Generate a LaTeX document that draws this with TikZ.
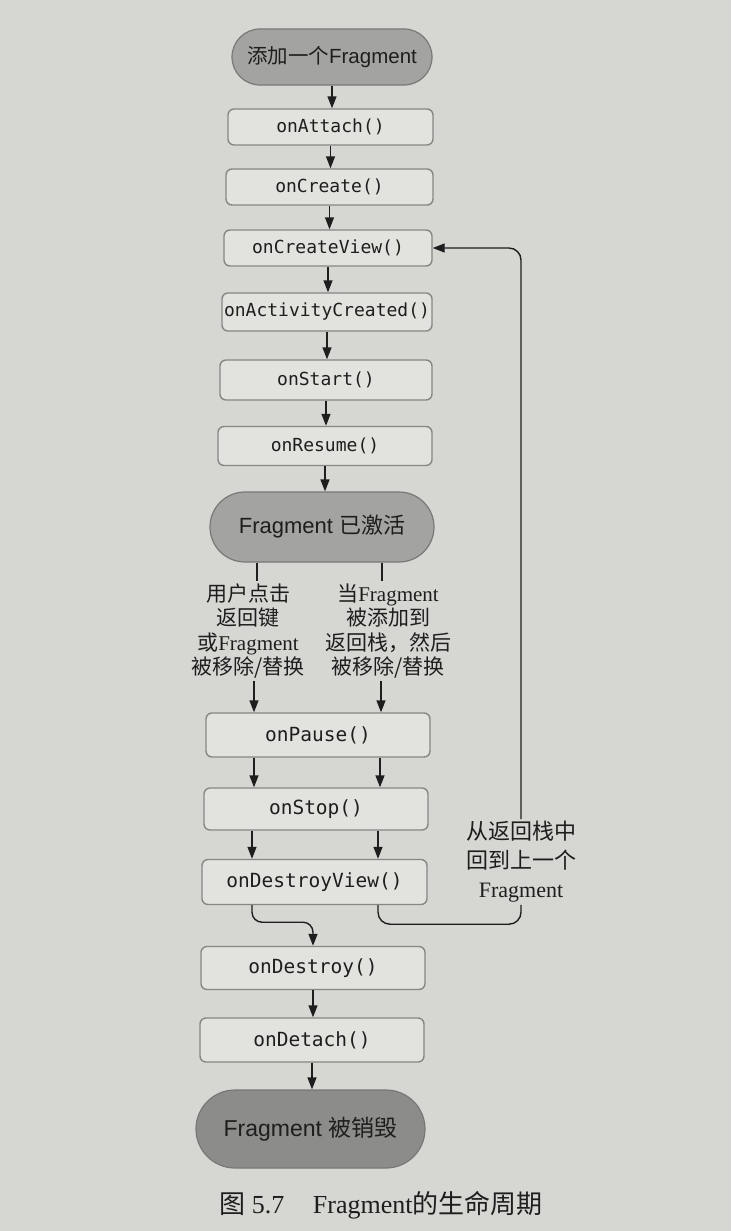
\documentclass[tikz,border=0pt]{standalone}
\usepackage{fontspec}
\setmainfont{Liberation Serif}
\setsansfont{Liberation Sans}
\setmonofont{DejaVu Sans Mono}
\newfontfamily\cjk{Noto Sans CJK SC}
\usetikzlibrary{arrows.meta,calc}
\definecolor{bgc}{RGB}{214,214,211}
\definecolor{boxfill}{RGB}{226,226,223}
\definecolor{boxline}{RGB}{135,135,133}
\definecolor{pillfill}{RGB}{163,163,161}
\definecolor{deadfill}{RGB}{140,140,138}
\definecolor{pillline}{RGB}{120,120,118}
\definecolor{inkc}{RGB}{30,30,30}
\newcommand\monoA{\ttfamily\fontsize{18}{21}\selectfont}
\newcommand\monoB{\ttfamily\fontsize{19.5}{22}\selectfont}
\begin{document}
\begin{tikzpicture}[x=1pt,y=-1pt,
  box/.style={draw=boxline, line width=1.4pt, fill=boxfill, rounded corners=6pt, text=inkc, inner sep=0pt},
  pill/.style={draw=pillline, line width=1.2pt, fill=pillfill, text=inkc, inner sep=0pt},
  arr/.style={-{Triangle[length=12pt,width=9pt]}, line width=1.4pt, draw=inkc},
  ln/.style={line width=1.4pt, draw=inkc},
  lbl/.style={align=center, text=inkc, inner sep=2pt}
]
\fill[bgc] (0,0) rectangle (731,1231);
\useasboundingbox (0,0) rectangle (731,1231);

\node[pill, minimum width=200pt, minimum height=56pt, rounded corners=28pt, font=\sffamily\fontsize{20.5}{24}\selectfont] (start) at (332,57) {{\cjk 添加一个}Fragment};
\node[box, minimum width=205pt, minimum height=36pt, font=\monoA] (attach) at (330.5,127) {onAttach()};
\node[box, minimum width=207pt, minimum height=36pt, font=\monoA] (create) at (329.5,187) {onCreate()};
\node[box, minimum width=208pt, minimum height=36pt, font=\monoA] (cview) at (328,248) {onCreateView()};
\node[box, minimum width=210pt, minimum height=38pt, font=\monoA] (actc) at (327,312) {onActivityCreated()};
\node[box, minimum width=212pt, minimum height=40pt, font=\monoA] (ostart) at (326,380) {onStart()};
\node[box, minimum width=214pt, minimum height=39pt, font=\monoA] (resume) at (325,446) {onResume()};
\node[pill, minimum width=224pt, minimum height=70pt, rounded corners=35pt, font=\sffamily\fontsize{22}{26}\selectfont] (active) at (322,527) {Fragment {\cjk 已激活}};

\node[lbl, font=\fontsize{21}{24.5}\selectfont] (lblL) at (248,631) {{\cjk 用户点击}\\{\cjk 返回键}\\{\cjk 或}Fragment\\{\cjk 被移除/替换}};
\node[lbl, font=\fontsize{21}{24.5}\selectfont] (lblR) at (388,631) {{\cjk 当}Fragment\\{\cjk 被添加到}\\{\cjk 返回栈，然后}\\{\cjk 被移除/替换}};

\node[box, minimum width=224pt, minimum height=44pt, font=\monoB] (pause) at (318,735) {onPause()};
\node[box, minimum width=224pt, minimum height=42pt, font=\monoB] (stop) at (316,809) {onStop()};
\node[box, minimum width=225pt, minimum height=45pt, font=\monoB] (dview) at (314.5,882) {onDestroyView()};
\node[box, minimum width=224pt, minimum height=43pt, font=\monoB] (destroy) at (313,968) {onDestroy()};
\node[box, minimum width=224pt, minimum height=44pt, font=\monoB] (detach) at (312,1040) {onDetach()};
\node[pill, fill=deadfill, minimum width=229pt, minimum height=78pt, rounded corners=39pt, font=\sffamily\fontsize{23}{27}\selectfont] (dead) at (310.5,1129) {Fragment {\cjk 被销毁}};

\node[lbl, font=\fontsize{22}{29}\selectfont] (back) at (521,862) {{\cjk 从返回栈中}\\{\cjk 回到上一个}\\Fragment};

\node[text=inkc, font=\fontsize{26}{30}\selectfont] (cap) at (381,1205) {{\cjk 图} 5.7\hspace{1.1em}Fragment{\cjk 的生命周期}};

% main chain
\draw[arr] (start.south) -- (start.south |- attach.north);
\draw[arr] (attach.south) -- (attach.south |- create.north);
\draw[arr] (create.south) -- (create.south |- cview.north);
\draw[arr] (cview.south) -- (cview.south |- actc.north);
\draw[arr] (actc.south) -- (actc.south |- ostart.north);
\draw[arr] (ostart.south) -- (ostart.south |- resume.north);
\draw[arr] (resume.south) -- (resume.south |- active.north);

% branches
\draw[ln] ([xshift=-65pt]active.south) -- ([xshift=9pt]lblL.north);
\draw[ln] ([xshift=60pt]active.south) -- ([xshift=-6pt]lblR.north);
\draw[arr] ([xshift=6pt]lblL.south) -- ([xshift=-64pt]pause.north);
\draw[arr] ([xshift=-7pt]lblR.south) -- ([xshift=63pt]pause.north);
\draw[arr] ([xshift=-64pt]pause.south) -- ([xshift=-62pt]stop.north);
\draw[arr] ([xshift=62pt]pause.south) -- ([xshift=64pt]stop.north);
\draw[arr] ([xshift=-64pt]stop.south) -- ([xshift=-62.5pt]dview.north);
\draw[arr] ([xshift=62pt]stop.south) -- ([xshift=63.5pt]dview.north);

% to onDestroy
\draw[arr, rounded corners=10pt] ([xshift=-62.5pt]dview.south) -- ++(0pt,-17pt) -| (destroy.north);
% return path
\draw[ln, rounded corners=12pt] ([xshift=63.5pt]dview.south) -- ++(0pt,-19pt) -| (back.south);
\draw[arr, rounded corners=12pt] (back.north) |- (cview.east);

\draw[arr] (destroy.south) -- (destroy.south |- detach.north);
\draw[arr] (detach.south) -- (detach.south |- dead.north);
\end{tikzpicture}
\end{document}
